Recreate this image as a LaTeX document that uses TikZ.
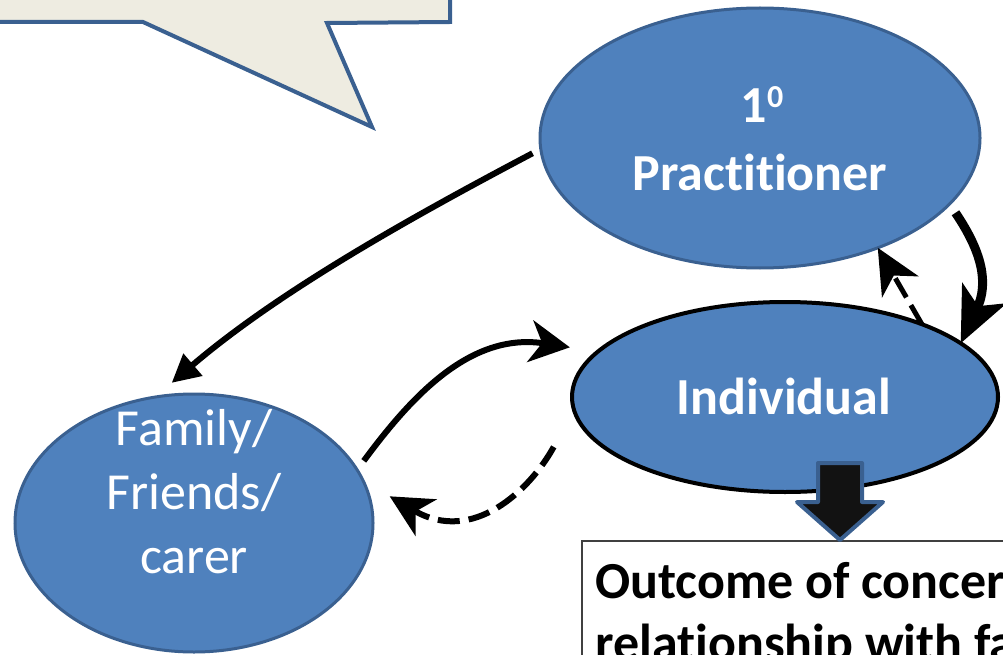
\documentclass[tikz,border=0pt]{standalone}
\usepackage{fontspec}
\setmainfont{Carlito}[Ligatures=NoCommon]
\usetikzlibrary{arrows.meta,calc,shapes.geometric}
\definecolor{nodeblue}{HTML}{4F81BD}
\definecolor{edgeblue}{HTML}{3A6090}
\definecolor{calloutfill}{HTML}{EEECE1}
\begin{document}
\begin{tikzpicture}[x=1pt,y=-1pt,
  bubble/.style={ellipse, fill=nodeblue, draw=edgeblue, line width=3pt, inner sep=0pt, outer sep=0pt},
  lbl/.style={text=white, font=\fontsize{52}{64}\selectfont\bfseries, anchor=base, inner sep=0pt},
  lblnorm/.style={text=white, font=\fontsize{52}{64}\selectfont, anchor=base, inner sep=0pt, align=center},
  conn/.style={line width=6pt, black},
  dashconn/.style={conn, dash pattern=on 22pt off 9pt}]
\useasboundingbox (0,0) rectangle (1003,655);
\clip (0,0) rectangle (1003,655);
% callout
\draw[fill=calloutfill, draw=edgeblue, line width=4pt, line join=miter]
  (-10,-20) -- (450,-20) -- (450,22) -- (327,23) -- (372,127) -- (143,22) -- (-10,22) -- cycle;
% ellipses
\node[bubble, minimum width=440pt, minimum height=260pt] (prac) at (760,138) {};
\node[bubble, draw=black, line width=4pt, minimum width=426pt, minimum height=190pt] (ind) at (785,397) {};
\node[bubble, minimum width=358pt, minimum height=258pt] (fam) at (194,523) {};
% labels
\node[lbl] (one) at (762,123) {1\raisebox{15pt}{\fontsize{32}{32}\selectfont 0}};
\node[lbl] (practl) at (760,190) {Practitioner};
\node[lbl] (indl) at (784,414) {Individual};
\node[lblnorm] (faml) at (194,573) {Family/\\Friends/\\carer};
% outcome box
\node[draw=black!75, line width=1.5pt, fill=white, rectangle, anchor=north west,
  minimum width=500pt, minimum height=200pt, inner sep=0pt] (outbox) at (581,540) {};
\node[anchor=base west, inner sep=0pt, align=left, font=\fontsize{52}{62}\selectfont\bfseries] (outtext) at (595,660)
  {Outcome of concer\\relationship with fa};
% block arrow
\draw[fill=black!93, draw=edgeblue, line width=4pt, line join=round]
  (818,463) -- (862,463) -- (862,502) -- (883,502) -- (840,540) -- (797,502) -- (818,502) -- cycle;
% connectors
\draw[conn, -{Triangle[length=28pt,width=28pt]}]
  ($(prac.184)+(-9,0)$) .. controls (408,219) and (278,292) .. ($(fam.99)+(-2,-12)$);
\draw[conn, line width=9pt, -{Stealth[length=55pt,width=48pt,inset=14pt]}]
  ($(prac.339)+(11,4)$) .. controls (982,252) and (989,283) .. (ind.17);
\draw[dashconn, line width=5pt, -{Stealth[length=45pt,width=42pt,inset=13pt]}]
  (ind.28) -- (prac.317);
\draw[conn, -{Stealth[length=40pt,width=42pt,inset=12pt]}]
  ($(fam.20)+(10,-4)$) .. controls (411,397) and (470,332) .. ($(ind.167)+(-26,-6)$);
\draw[dashconn, -{Stealth[length=42pt,width=42pt,inset=12pt]}]
  ($(ind.192)+(-39,9)$) .. controls (530,490) and (473,545) .. ($(fam.8)+(20,-2)$);
\end{tikzpicture}
\end{document}
